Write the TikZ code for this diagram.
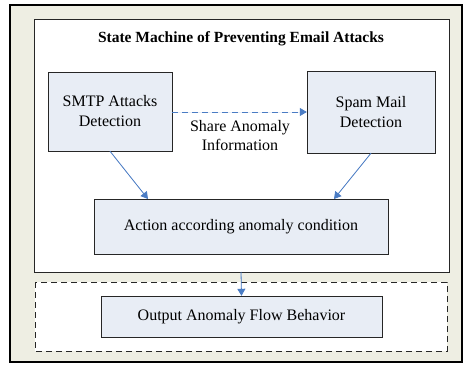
\documentclass[tikz,border=0pt]{standalone}
\usepackage{fontspec}
\setmainfont{Liberation Serif}
\usetikzlibrary{arrows.meta}
\definecolor{bgframe}{HTML}{EEEEE3}
\definecolor{boxfill}{HTML}{E8EDF5}
\definecolor{arrowblue}{HTML}{4A7CC4}
\tikzset{
  statebox/.style={draw=black!85, fill=boxfill, align=center, inner sep=0pt, font=\fontsize{16}{20}\selectfont},
  flow/.style={-{Triangle[length=7pt,width=8pt]}, draw=arrowblue, fill=arrowblue, line width=0.8pt}
}
\begin{document}
\begin{tikzpicture}[x=1pt,y=-1pt]
                \useasboundingbox (0,0) rectangle (465,364);
                % Outer frame
                \draw[line width=1.6pt, fill=bgframe] (10,5) rectangle (462,362);
                % Inner white box
                \draw[black!85, fill=white] (34,19) rectangle (449,272);
                % Dashed output region
                \draw[black!85, dashed, dash pattern=on 6pt off 4pt, fill=white] (35,282) rectangle (447,351);
                % Title
                \node (title) at (241,39) {\fontsize{15.5}{18}\selectfont\bfseries State Machine of Preventing Email Attacks};
                % States
                \node[statebox, minimum width=124pt, minimum height=79pt] (smtp) at (110,111.5) {SMTP Attacks\\Detection};
                \node[statebox, minimum width=128pt, minimum height=82pt] (spam) at (371,112) {Spam Mail\\Detection};
                \node[statebox, minimum width=294pt, minimum height=55pt] (action) at (241,226.5) {Action according anomaly condition};
                \node[statebox, minimum width=281pt, minimum height=41pt] (output) at (241.5,316.5) {Output Anomaly Flow Behavior};
                % Share label
                \node[align=center, font=\fontsize{16}{19}\selectfont] (share) at (240,136) {Share Anomaly\\Information};
                \coordinate (innerbot) at (241,272);
                % Arrows
                \draw[flow, dashed, dash pattern=on 6pt off 4pt] (smtp.east |- 0,112) -- (spam.west |- 0,112);
                \draw[flow] (smtp.south) -- (148,199);
                \draw[flow] (spam.south) -- (334,199);
                \draw[flow] (innerbot) -- (output.north);
\end{tikzpicture}
\end{document}
